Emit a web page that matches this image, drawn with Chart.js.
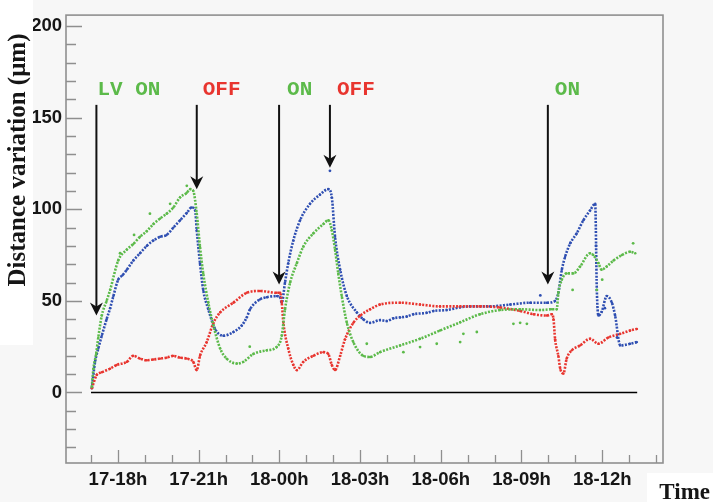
<!DOCTYPE html>
<html>
<head>
<meta charset="utf-8">
<script src="https://cdn.jsdelivr.net/npm/chart.js@4/dist/chart.umd.min.js"></script>
<style>
  html, body { margin: 0; padding: 0; background: #f7f7f7; }
  canvas { display: block; }
</style>
</head>
<body>
<canvas id="c" width="713" height="502"></canvas>
<script>
// Time axis in hours counted from 17-00h (so 18-03h = 27)
const tickHours  = [18, 21, 24, 27, 30, 33, 36];
const tickLabels = ['17-18h', '17-21h', '18-00h', '18-03h', '18-06h', '18-09h', '18-12h'];
const yTickValues = [0, 50, 100, 150, 200];

// Distance variation (µm) per sensor
const greenT = [17.03,17.09,17.19,17.27,17.40,17.58,17.71,18.01,18.33,18.57,18.82,19.07,19.32,19.57,19.81,20.06,20.31,20.56,20.68,20.80,20.93,21.05,21.17,21.36,21.55,21.80,22.04,22.42,22.66,23.03,23.53,23.90,24.09,24.21,24.40,24.65,24.89,25.26,25.64,25.82,25.95,26.07,26.19,26.32,26.51,26.75,27.12,27.37,27.74,28.49,29.23,29.97,30.72,31.46,32.20,32.95,33.69,34.13,34.31,34.37,34.50,34.68,34.93,35.18,35.55,35.67,35.86,35.98,36.17,36.42,36.73,37.04,37.23];
const greenV = [3,13,21,30,42,50,56,72,78,81,85,88,92,95,97.6,101,106.5,109,111,110,97.6,79.6,65,49,36.5,24,18.5,15.8,16.7,21,23,24.8,31,45.4,60,70.6,79.6,86.8,92,94,88.6,78,65,52.6,38,27.5,20,19.4,22,25.7,29.3,33.8,38.3,42.7,45,45.4,45,45.4,45.4,54.4,61.6,65,65,68.8,76,75,70.6,67,68.8,72,75,76.8,76];
// isolated green readings off the main trend
const greenStrayT = [18.08,18.6,19.19,19.94,20.56,22.9,27.25,28.61,29.23,29.85,30.72,30.84,31.34,32.70,32.95,33.20,34.9,35.8,36.0,37.15];
const greenStrayV = [76,86,97.6,103,112.8,25,26.6,22,24.8,26.6,27.5,32,33,37.5,38,37.5,56,56,61.6,81.4];

const blueT = [17.03,17.15,17.27,17.40,17.58,17.71,17.83,18.01,18.17,18.33,18.57,18.82,19.07,19.32,19.57,19.81,20.06,20.31,20.56,20.74,20.87,20.93,21.05,21.17,21.36,21.61,21.92,22.29,22.60,22.79,22.91,23.28,23.53,23.90,24.03,24.09,24.21,24.33,24.52,24.77,25.14,25.51,25.82,25.95,26.07,26.26,26.51,26.88,27.12,27.37,27.74,27.99,28.24,28.49,28.74,28.98,29.48,29.73,30.22,30.72,31.09,31.83,32.58,33.32,33.94,34.25,34.37,34.50,34.62,34.81,35.05,35.30,35.55,35.74,35.80,35.86,35.98,36.17,36.36,36.48,36.67,37.04,37.29];
const blueV = [2.3,16.7,24,31,40,46,52.6,61.6,64,67,72,76,80,83,85,86,90,94,98,101,99.4,88.6,70.6,56,45.4,34.7,31,33,36.5,41,45.4,50.8,52,52.6,52,49,60,70.6,83,94,103,108,111,106.5,85,67,52.6,43.7,40,38,39.5,39,40.5,41,41.5,42.7,43.5,44.5,45,46.5,47,47,48,49,49,50,54.4,67,74,81.4,86.8,94,99.4,103,56,42,44,52.6,49,42,25.7,26.6,27.5];
const blueStrayT = [25.88,33.7,35.77,36.55,36.1];
const blueStrayV = [121,53,80,30,46];

const redT = [17.03,17.21,17.40,17.71,17.95,18.33,18.57,18.82,19.07,19.32,19.57,19.81,20.06,20.31,20.56,20.80,20.93,21.05,21.30,21.55,21.80,22.29,22.79,23.28,23.90,24.03,24.09,24.15,24.33,24.52,24.65,24.89,25.26,25.64,25.82,25.95,26.07,26.26,26.44,26.75,27.00,27.37,27.74,28.49,29.23,29.97,30.72,31.46,32.20,32.95,33.45,33.94,34.13,34.19,34.25,34.37,34.44,34.56,34.68,34.87,35.18,35.55,35.86,36.23,36.67,37.04,37.29];
const redV = [2.3,9.5,11,13,15,16.7,20,18.5,17.6,18,18.5,19,20,19,18.5,16.7,12.2,20,27.5,38,43.7,49,54.4,55.4,54.4,54.4,49,38,24,15,12.2,16.7,20,22,21,15,12.2,20,29,38,41.9,45.4,48,49,48,47,47,47,46.4,44.5,42.7,42,42.7,40,29,20,13,10.4,18.5,23,25.7,29.3,26.6,30,32,33.8,34.7];

// Reference zero line over the recording span
const zeroSpan = [17.0, 37.3];

// Low-voltage switching events: time, text, value the arrow points at
const eventT     = [17.20, 20.93, 23.99, 25.88, 33.98];
const eventLabel = ['LV ON', 'OFF', 'ON', 'OFF', 'ON'];
const eventTip   = [42, 111, 59, 122.7, 59];

const GREEN = '#5cba4a', BLUE = '#2f4fb2', RED = '#e8352f';
const AXIS = '#8f8f8f', TEXT = '#161616';

function pairs(t, v) { return t.map((x, i) => ({ x: x, y: v[i] })); }

function trace(label, t, v, color) {
  return {
    label: label,
    data: pairs(t, v),
    showLine: true,
    borderColor: color,
    borderWidth: 2.6,
    borderDash: [2, 1.4],
    cubicInterpolationMode: 'monotone',
    pointRadius: 1.2,
    pointBackgroundColor: color,
    pointBorderWidth: 0
  };
}

function dots(label, t, v, color) {
  return {
    label: label,
    data: pairs(t, v),
    showLine: false,
    pointRadius: 1.4,
    pointBackgroundColor: color,
    pointBorderWidth: 0
  };
}

const framePlugin = {
  id: 'frame',
  beforeDraw(chart) {
    const c = chart.ctx;
    c.save();
    c.fillStyle = '#f7f7f7';
    c.fillRect(0, 0, chart.width, chart.height);
    c.restore();
  },
  afterDraw(chart) {
    const c = chart.ctx, a = chart.chartArea;
    const xs = chart.scales.x, ys = chart.scales.y;
    c.save();
    // frame
    c.strokeStyle = AXIS;
    c.lineWidth = 1.6;
    c.strokeRect(a.left, a.top, a.right - a.left, a.bottom - a.top);
    // y ticks (inside the frame)
    c.lineWidth = 1.3;
    c.beginPath();
    for (let v = -30; v <= 200; v += 10) {
      const y = Math.round(ys.getPixelForValue(v)) + 0.5;
      const len = (v % 50 === 0) ? 16 : 10;
      c.moveTo(a.left, y); c.lineTo(a.left + len, y);
    }
    // x ticks, one per hour
    for (let h = 17; h <= 38; h++) {
      const x = Math.round(xs.getPixelForValue(h)) + 0.5;
      const len = tickHours.includes(h) ? 13 : 8;
      c.moveTo(x, a.bottom); c.lineTo(x, a.bottom - len);
    }
    c.stroke();

    // switching arrows and their labels
    c.fillStyle = '#111';
    c.strokeStyle = '#111';
    eventT.forEach((t, i) => {
      const x = xs.getPixelForValue(t);
      const yTop = ys.getPixelForValue(157);
      const yTip = ys.getPixelForValue(eventTip[i]);
      c.lineWidth = 2;
      c.beginPath();
      c.moveTo(x, yTop); c.lineTo(x, yTip - 6);
      c.stroke();
      c.beginPath();
      c.moveTo(x, yTip);
      c.lineTo(x - 6.5, yTip - 13);
      c.lineTo(x, yTip - 9);
      c.lineTo(x + 6.5, yTip - 13);
      c.closePath();
      c.fill();
    });
    c.font = 'bold 21px "Liberation Mono", "DejaVu Sans Mono", monospace';
    c.textBaseline = 'alphabetic';
    c.textAlign = 'left';
    const textOffset = [1, 6, 8, 7, 7];
    eventT.forEach((t, i) => {
      const x = xs.getPixelForValue(t) + textOffset[i];
      const y = ys.getPixelForValue(162.5);
      c.fillStyle = eventLabel[i].endsWith('OFF') ? RED : GREEN;
      c.fillText(eventLabel[i], x, y);
    });

    // axis titles on white panels
    c.fillStyle = '#ffffff';
    c.fillRect(0, 0, 33, 345);
    c.fillRect(647, 473, chart.width - 647, chart.height - 473);
    c.fillStyle = TEXT;
    c.font = 'bold 25px "Liberation Serif", "Times New Roman", serif';
    c.save();
    c.translate(25, 160);
    c.rotate(-Math.PI / 2);
    c.textAlign = 'center';
    c.textBaseline = 'alphabetic';
    c.fillText('Distance variation (\u03bcm)', 0, 0);
    c.restore();
    c.font = 'bold 23px "Liberation Serif", "Times New Roman", serif';
    c.textAlign = 'right';
    c.textBaseline = 'alphabetic';
    c.fillText('Time', 710, 499);
    c.restore();
  }
};

const tickFont = { family: '"Liberation Sans", Arial, sans-serif', size: 18.5, weight: 'bold' };

new Chart(document.getElementById('c'), {
  type: 'scatter',
  data: {
    datasets: [
      {
        label: 'zero',
        data: [{ x: zeroSpan[0], y: 0 }, { x: zeroSpan[1], y: 0 }],
        showLine: true, borderColor: '#000', borderWidth: 1.6, pointRadius: 0
      },
      trace('green', greenT, greenV, GREEN),
      dots('green scatter', greenStrayT, greenStrayV, GREEN),
      trace('red', redT, redV, RED),
      trace('blue', blueT, blueV, BLUE),
      dots('blue scatter', blueStrayT, blueStrayV, BLUE)
    ]
  },
  options: {
    responsive: false,
    devicePixelRatio: 1,
    animation: false,
    layout: { padding: { top: 8, right: 50, left: 0, bottom: 0 } },
    plugins: { legend: { display: false }, tooltip: { enabled: false } },
    scales: {
      x: {
        type: 'linear', min: 16.07, max: 38.26,
        grid: { display: false, drawTicks: false },
        border: { display: false },
        afterBuildTicks: s => { s.ticks = tickHours.map(v => ({ value: v })); },
        afterFit: s => { s.height = 39; },
        ticks: {
          autoSkip: false, maxRotation: 0, padding: 6,
          color: TEXT, font: tickFont,
          callback: v => tickLabels[tickHours.indexOf(v)] || ''
        }
      },
      y: {
        min: -38.5, max: 206,
        grid: { display: false, drawTicks: false },
        border: { display: false },
        afterBuildTicks: s => { s.ticks = yTickValues.map(v => ({ value: v })); },
        afterFit: s => { s.width = 66; },
        ticks: { padding: 4, color: TEXT, font: tickFont }
      }
    }
  },
  plugins: [framePlugin]
});
</script>
</body>
</html>
